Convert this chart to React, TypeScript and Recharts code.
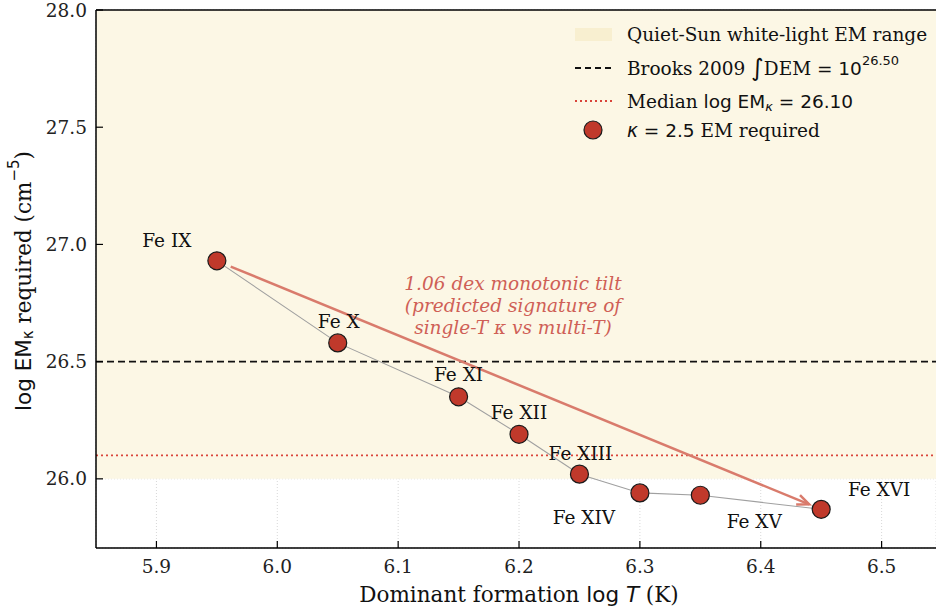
import {
  LineChart,
  Line,
  XAxis,
  YAxis,
  CartesianGrid,
  ReferenceArea,
  ReferenceLine,
  ReferenceDot,
} from 'recharts';

const ions = ['Fe IX', 'Fe X', 'Fe XI', 'Fe XII', 'Fe XIII', 'Fe XIV', 'Fe XV', 'Fe XVI'];
const logT = [5.95, 6.05, 6.15, 6.2, 6.25, 6.3, 6.35, 6.45];
const logEM = [26.93, 26.58, 26.35, 26.19, 26.02, 25.94, 25.93, 25.87];

const xTicks = [5.9, 6.0, 6.1, 6.2, 6.3, 6.4, 6.5];
const yTicks = [26.0, 26.5, 27.0, 27.5, 28.0];

const quietSunRange = [26.0, 28.0];
const brooksLogEM = 26.5;
const medianLogEM = 26.1;
const tiltDex = 1.06;
const tiltTextAt = { x: 6.195, y: 26.74 };

const data = ions.map((ion, i) => ({ ion, logT: logT[i], logEM: logEM[i] }));

// where each ion name sits relative to its marker (px)
const labelOffsets: [number, number][] = [
  [-50, -20], [1, -21], [0, -22], [0, -22], [1, -21], [-56, 25], [54, 26], [58, -20],
];

const SERIF = "'DejaVu Serif', serif";
const SANS = "'DejaVu Sans', sans-serif";
const FS = 18.5;
const TITLE_FS = 21.5;
const CREAM = '#fcf7e5';
const MARKER = '#c0392b';
const RED_DOT = '#d9443a';
const TILT = '#d97b6c';

const XTick = ({ x, y, payload }: any) => (
  <g>
    <line x1={x} x2={x} y1={y} y2={y - 7} stroke="#000" strokeWidth={1.2} />
    <text x={x} y={y + 18} textAnchor="middle" dominantBaseline="central" fontFamily={SERIF} fontSize={FS} fill="#222">
      {payload.value.toFixed(1)}
    </text>
  </g>
);

const YTick = ({ x, y, payload }: any) => (
  <g>
    <line x1={x} x2={x + 7} y1={y} y2={y} stroke="#000" strokeWidth={1.2} />
    <text x={x - 9} y={y} textAnchor="end" dominantBaseline="central" fontFamily={SERIF} fontSize={FS} fill="#222">
      {payload.value.toFixed(1)}
    </text>
  </g>
);

const IonDot = ({ cx, cy, index }: any) => {
  const [dx, dy] = labelOffsets[index];
  return (
    <g key={`ion-${index}`}>
      <circle cx={cx} cy={cy} r={9} fill={MARKER} stroke="#1a1a1a" strokeWidth={1.2} />
      <text x={cx + dx} y={cy + dy} textAnchor="middle" dominantBaseline="central" fontFamily={SERIF} fontSize={FS} fill="#111">
        {ions[index]}
      </text>
    </g>
  );
};

// arrow between first and last ion, pulled back from the marker centres
const TiltArrow = (props: any) => {
  const { x1, y1, x2, y2 } = props;
  const dx = x2 - x1;
  const dy = y2 - y1;
  const len = Math.hypot(dx, dy);
  const ux = dx / len;
  const uy = dy / len;
  const shrink = 15;
  const sx = x1 + ux * shrink;
  const sy = y1 + uy * shrink;
  const ex = x2 - ux * (shrink - 2);
  const ey = y2 - uy * (shrink - 2);
  const head = 13;
  const ang = Math.atan2(uy, ux);
  const a1 = ang + Math.PI - 0.4;
  const a2 = ang + Math.PI + 0.4;
  return (
    <g>
      <line x1={sx} y1={sy} x2={ex} y2={ey} stroke={TILT} strokeWidth={2.5} />
      <polyline
        points={`${ex + head * Math.cos(a1)},${ey + head * Math.sin(a1)} ${ex},${ey} ${ex + head * Math.cos(a2)},${ey + head * Math.sin(a2)}`}
        fill="none"
        stroke={TILT}
        strokeWidth={2.5}
      />
    </g>
  );
};

const TiltNote = ({ cx, cy }: any) => (
  <text x={cx} y={cy} textAnchor="middle" fontFamily={SERIF} fontStyle="italic" fontSize={FS} fill="#cf5f56">
    <tspan x={cx} dy={-15}>{`${tiltDex.toFixed(2)} dex monotonic tilt`}</tspan>
    <tspan x={cx} dy={22}>(predicted signature of</tspan>
    <tspan x={cx} dy={22}>single-T κ vs multi-T)</tspan>
  </text>
);

// legend and axis titles drawn on top of the chart
const Overlay = () => (
  <svg width={936} height={607} style={{ position: 'absolute', left: 0, top: 0, pointerEvents: 'none' }}>
    <g transform="translate(560,14)">
      <rect x={15} y={14} width={37} height={13} fill="#f8efd0" />
      <text x={67} y={20} dominantBaseline="central" fontFamily={SERIF} fontSize={FS} fill="#111">
        Quiet-Sun white-light EM range
      </text>
      <line x1={15} x2={52} y1={54} y2={54} stroke="#111" strokeWidth={1.8} strokeDasharray="6 4" />
      <text x={67} y={54} dominantBaseline="central" fontFamily={SERIF} fontSize={FS} fill="#111">
        Brooks 2009{' '}
        <tspan fontFamily={SANS} fontSize={24}>∫</tspan>
        <tspan>DEM </tspan>
        <tspan fontFamily={SANS}>{` = 10`}</tspan>
        <tspan fontFamily={SANS} fontSize={13} dy={-8}>{brooksLogEM.toFixed(2)}</tspan>
      </text>
      <line x1={15} x2={52} y1={87} y2={87} stroke={RED_DOT} strokeWidth={1.8} strokeDasharray="2 3" />
      <text x={67} y={87} dominantBaseline="central" fontFamily={SERIF} fontSize={FS} fill="#111">
        Median{' '}
        <tspan fontFamily={SANS}>log EM</tspan>
        <tspan fontFamily={SANS} fontStyle="italic" fontSize={13} dy={5}>κ</tspan>
        <tspan fontFamily={SANS} dy={-5}>{` = ${medianLogEM.toFixed(2)}`}</tspan>
      </text>
      <circle cx={33} cy={116} r={9} fill={MARKER} stroke="#1a1a1a" strokeWidth={1.2} />
      <text x={67} y={116} dominantBaseline="central" fontFamily={SERIF} fontSize={FS} fill="#111">
        <tspan fontFamily={SANS} fontStyle="italic">κ</tspan>
        <tspan fontFamily={SANS}>{' = 2.5'}</tspan> EM required
      </text>
    </g>
    <text x={519} y={594} textAnchor="middle" dominantBaseline="central" fontFamily={SERIF} fontSize={TITLE_FS} fill="#111">
      Dominant formation{' '}
      <tspan fontFamily={SANS}>log</tspan>
      <tspan fontFamily={SANS} fontStyle="italic">{' T'}</tspan> (K)
    </text>
    <text
      x={23}
      y={281}
      transform="rotate(-90 23 281)"
      textAnchor="middle"
      dominantBaseline="central"
      fontFamily={SERIF}
      fontSize={TITLE_FS}
      fill="#111"
    >
      <tspan fontFamily={SANS}>log EM</tspan>
      <tspan fontFamily={SANS} fontSize={15} dy={5}>κ</tspan>
      <tspan dy={-5}> required (cm</tspan>
      <tspan fontFamily={SANS} fontSize={15} dy={-9}>−5</tspan>
      <tspan dy={9}>)</tspan>
    </text>
  </svg>
);

export default function App() {
  return (
    <div style={{ position: 'absolute', left: 0, top: 0, width: 936, height: 607, background: '#fff' }}>
      <LineChart
        width={936}
        height={607}
        data={data}
        margin={{ top: 10, right: 0, bottom: 0, left: 0 }}
      >
        <ReferenceArea
          y1={quietSunRange[0]}
          y2={quietSunRange[1]}
          fill={CREAM}
          fillOpacity={1}
          stroke="none"
        />
        <CartesianGrid stroke="#d8d8d8" strokeDasharray="1 2" />
        <XAxis
          type="number"
          dataKey="logT"
          domain={[5.85, 6.545]}
          ticks={xTicks}
          allowDataOverflow
          height={59}
          tickSize={0}
          tickMargin={0}
          tick={<XTick />}
          axisLine={{ stroke: '#000', strokeWidth: 1.5 }}
          tickLine={false}
        />
        <YAxis
          type="number"
          domain={[25.705, 28.0]}
          ticks={yTicks}
          allowDataOverflow
          width={96}
          tickSize={0}
          tickMargin={0}
          tick={<YTick />}
          axisLine={{ stroke: '#000', strokeWidth: 1.5 }}
          tickLine={false}
        />
        <ReferenceLine y={28} stroke="#000" strokeWidth={1.5} />
        <ReferenceLine y={brooksLogEM} stroke="#111" strokeWidth={1.8} strokeDasharray="7 4" />
        <ReferenceLine y={medianLogEM} stroke={RED_DOT} strokeWidth={1.8} strokeDasharray="2 3" />
        <ReferenceLine
          segment={[
            { x: logT[0], y: logEM[0] },
            { x: logT[logT.length - 1], y: logEM[logEM.length - 1] },
          ]}
          shape={<TiltArrow />}
        />
        <ReferenceDot x={tiltTextAt.x} y={tiltTextAt.y} r={0} shape={<TiltNote />} />
        <Line
          type="linear"
          dataKey="logEM"
          stroke="#a0a0a0"
          strokeWidth={1.1}
          dot={<IonDot />}
          activeDot={false}
          isAnimationActive={false}
        />
      </LineChart>
      <Overlay />
    </div>
  );
}
